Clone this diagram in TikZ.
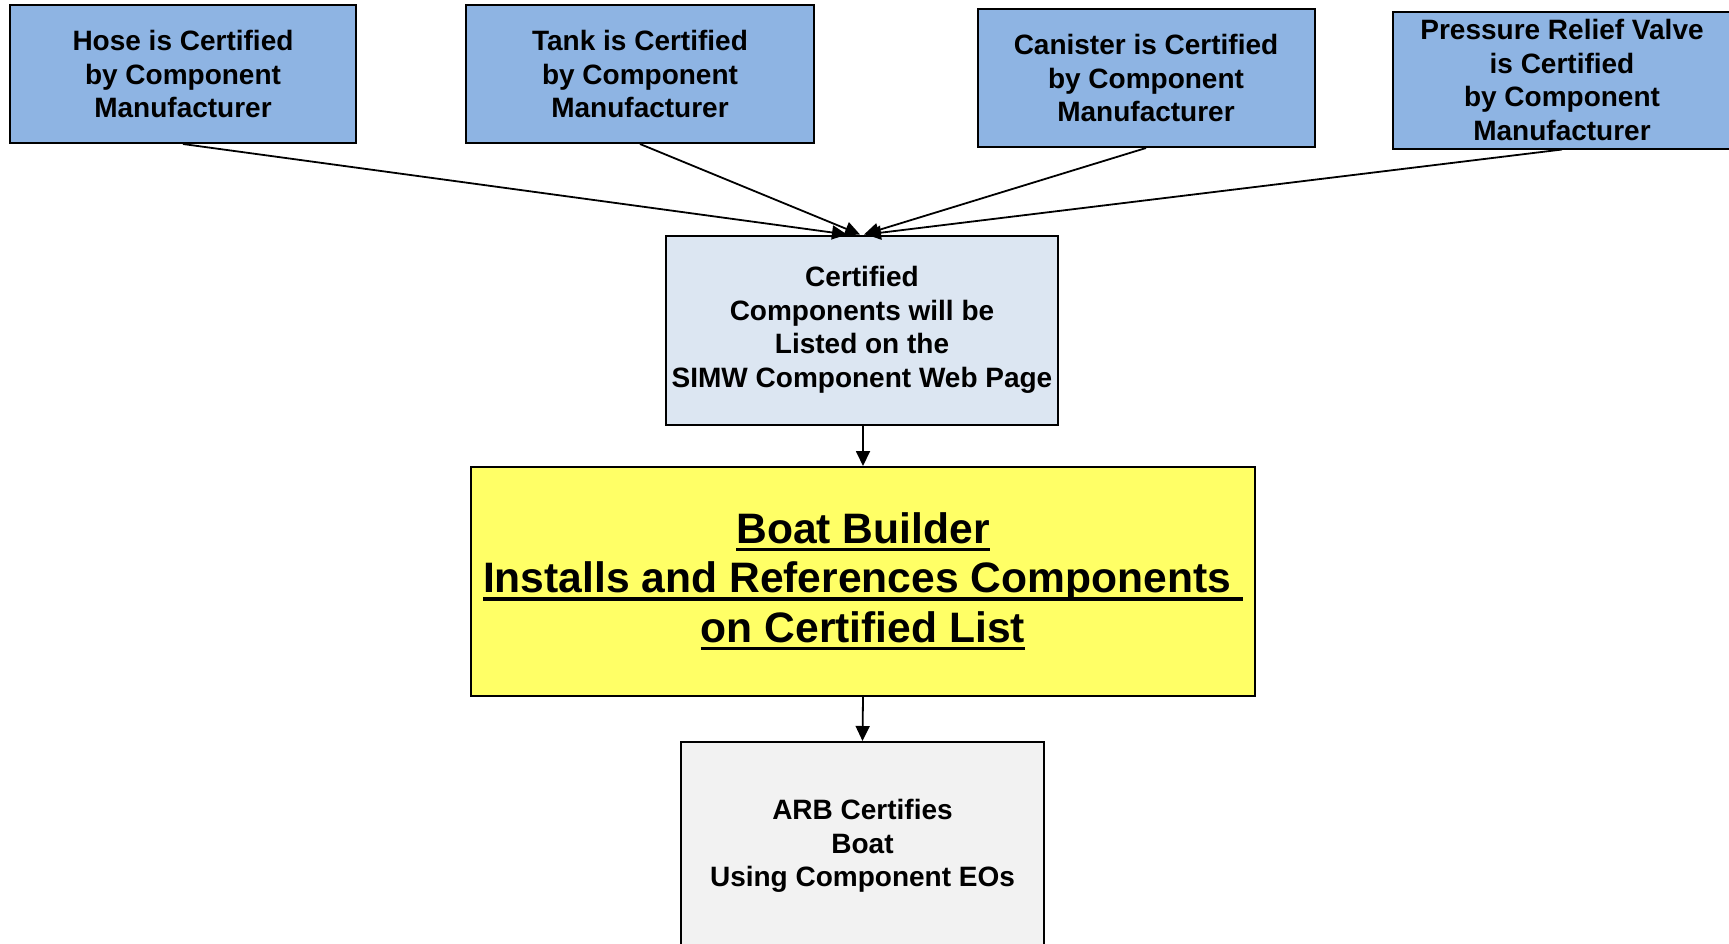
\documentclass[tikz,border=0pt]{standalone}
\usepackage{fontspec}
\setmainfont{Liberation Sans}
\usetikzlibrary{arrows.meta, positioning}

\definecolor{compblue}{HTML}{8EB4E3}
\definecolor{listblue}{HTML}{DCE6F2}
\definecolor{buildyellow}{HTML}{FFFF66}
\definecolor{arbgrey}{HTML}{F2F2F2}

% thick underline sitting a little under the baseline
\newcommand{\lineul}[1]{\setbox0\hbox{#1}\rlap{\rule[-8pt]{\wd0}{3.5pt}}\box0}

\begin{document}
\begin{tikzpicture}[x=1pt, y=-1pt, ->, >={Triangle[length=15pt, width=14pt]}, line width=1.8pt,
	box/.style={rectangle, draw, line width=2pt, inner sep=0pt, align=center, font=\bfseries\fontsize{28}{33.5}\selectfont},
	comp/.style={box, fill=compblue, minimum height=138pt},
	bigtext/.style={font=\bfseries\fontsize{42.6}{49.5}\selectfont}]

			\useasboundingbox (0,0) rectangle (1729,943);

			\node[comp, minimum width=346pt] (hose) at (183,74) {Hose is Certified\\by Component\\Manufacturer};
			\node[comp, minimum width=348pt] (tank) at (640,74) {Tank is Certified\\by Component\\Manufacturer};
			\node[comp, minimum width=337pt] (canister) at (1146,78) {Canister is Certified\\by Component\\Manufacturer};
			\node[comp, minimum width=338pt, minimum height=137pt] (valve) at (1562,80) {Pressure Relief Valve\\is Certified\\by Component\\Manufacturer};

			\node[box, fill=listblue, minimum width=392pt, minimum height=189pt] (list) at (862,330) {Certified\\Components will be\\Listed on the\\SIMW Component Web Page};

			\node[box, bigtext, fill=buildyellow, minimum width=784pt, minimum height=229pt] (builder) at (863,581.5)
				{\lineul{Boat Builder}\\\lineul{Installs and References Components\ }\\\lineul{on Certified List}};

			\node[box, fill=arbgrey, minimum width=363pt, minimum height=260pt] (arb) at (862.5,872) {};
			\node[box, draw=none, fill=none] (arbtext) at (862.5,846) {ARB Certifies\\Boat\\Using Component EOs};

			\path
			(hose.south) edge ([xshift=-15pt]list.north)
			(tank.south) edge ([xshift=-2pt]list.north)
			(canister.south) edge ([xshift=2pt]list.north)
			(valve.south) edge ([xshift=4pt]list.north)
			(list.south -| builder.north) edge (builder.north)
			(builder.south) edge (arb.north);

			\end{tikzpicture}
\end{document}
